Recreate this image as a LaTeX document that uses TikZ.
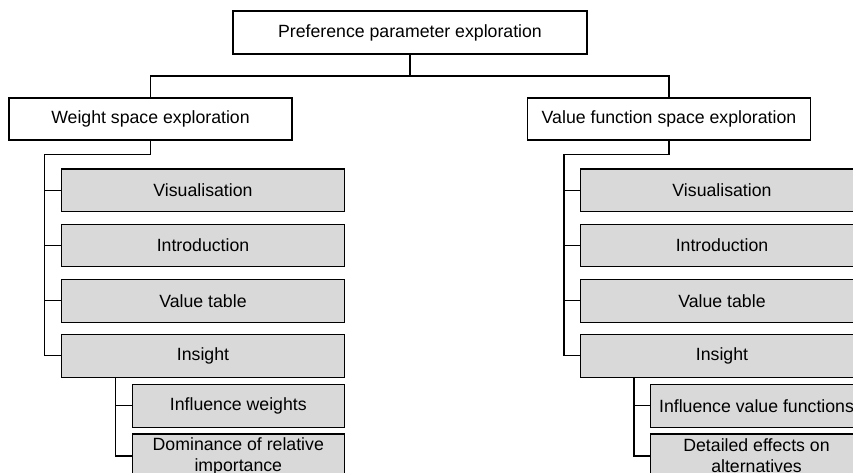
\documentclass[tikz,border=0pt]{standalone}
\usepackage{fontspec}
\setmainfont{Liberation Sans}
\begin{document}
\begin{tikzpicture}[x=1pt,y=-1pt,
  every node/.style={font=\fontsize{17.7}{21}\selectfont, inner sep=0pt, align=center},
  topbox/.style={draw, line width=1.5pt, fill=white, minimum width=354pt, minimum height=43pt},
  midbox/.style={draw, line width=1.1pt, fill=white, minimum width=283pt, minimum height=42pt},
  leafbox/.style={draw, line width=1.1pt, fill=black!15, minimum width=282.5pt, minimum height=42.5pt},
  subbox/.style={draw, line width=1.1pt, fill=black!15, minimum width=211.5pt, minimum height=42.5pt},
  conn/.style={line width=1.1pt}]
\useasboundingbox (0,0) rectangle (853,473);
\clip (0,0) rectangle (853,473);
% root
\node[topbox] (root) at (410,32.5) {Preference parameter exploration};
% second level
\node[midbox] (wse) at (150.5,119) {Weight space exploration};
\node[midbox] (vse) at (669,119) {Value function space exploration};
% left children
\node[leafbox] (lvis) at (203,190.3) {Visualisation};
\node[leafbox] (lint) at (203,245.3) {Introduction};
\node[leafbox] (lval) at (203,300.8) {Value table};
\node[leafbox] (lins) at (203,355.8) {Insight};
\node[subbox] (linf) at (238.3,405.8) {Influence weights};
\node[subbox, minimum height=44pt] (ldom) at (238.3,456) {Dominance of relative\\importance};
% right children
\node[leafbox] (rvis) at (722,190.3) {Visualisation};
\node[leafbox] (rint) at (722,245.3) {Introduction};
\node[leafbox] (rval) at (722,300.8) {Value table};
\node[leafbox] (rins) at (722,355.8) {Insight};
\node[subbox] (rinf) at (756.5,405.8) {Influence value functions};
\node[subbox, minimum height=44pt] (rdet) at (756.5,456) {Detailed effects on\\alternatives};
% junction coordinates
\coordinate (rj) at (410,76);
\coordinate (lj) at (44.7,154.7);
\coordinate (rjj) at (564,154.7);
\coordinate (ls) at (115.3,0);
\coordinate (rs) at (634,0);
% connectors
\draw[conn] (root.south) -- (rj);
\draw[conn] (wse.north) |- (rj) -| (vse.north);
\draw[conn] (wse.south) |- (lj) -- (lj |- lins.west) -- (lins.west);
\draw[conn] (lj |- lvis.west) -- (lvis.west);
\draw[conn] (lj |- lint.west) -- (lint.west);
\draw[conn] (lj |- lval.west) -- (lval.west);
\draw[conn] (vse.south) |- (rjj) -- (rjj |- rins.west) -- (rins.west);
\draw[conn] (rjj |- rvis.west) -- (rvis.west);
\draw[conn] (rjj |- rint.west) -- (rint.west);
\draw[conn] (rjj |- rval.west) -- (rval.west);
\draw[conn] (lins.south -| ls) -- (ls |- ldom.west) -- (ldom.west);
\draw[conn] (ls |- linf.west) -- (linf.west);
\draw[conn] (rins.south -| rs) -- (rs |- rdet.west) -- (rdet.west);
\draw[conn] (rs |- rinf.west) -- (rinf.west);
\end{tikzpicture}
\end{document}
